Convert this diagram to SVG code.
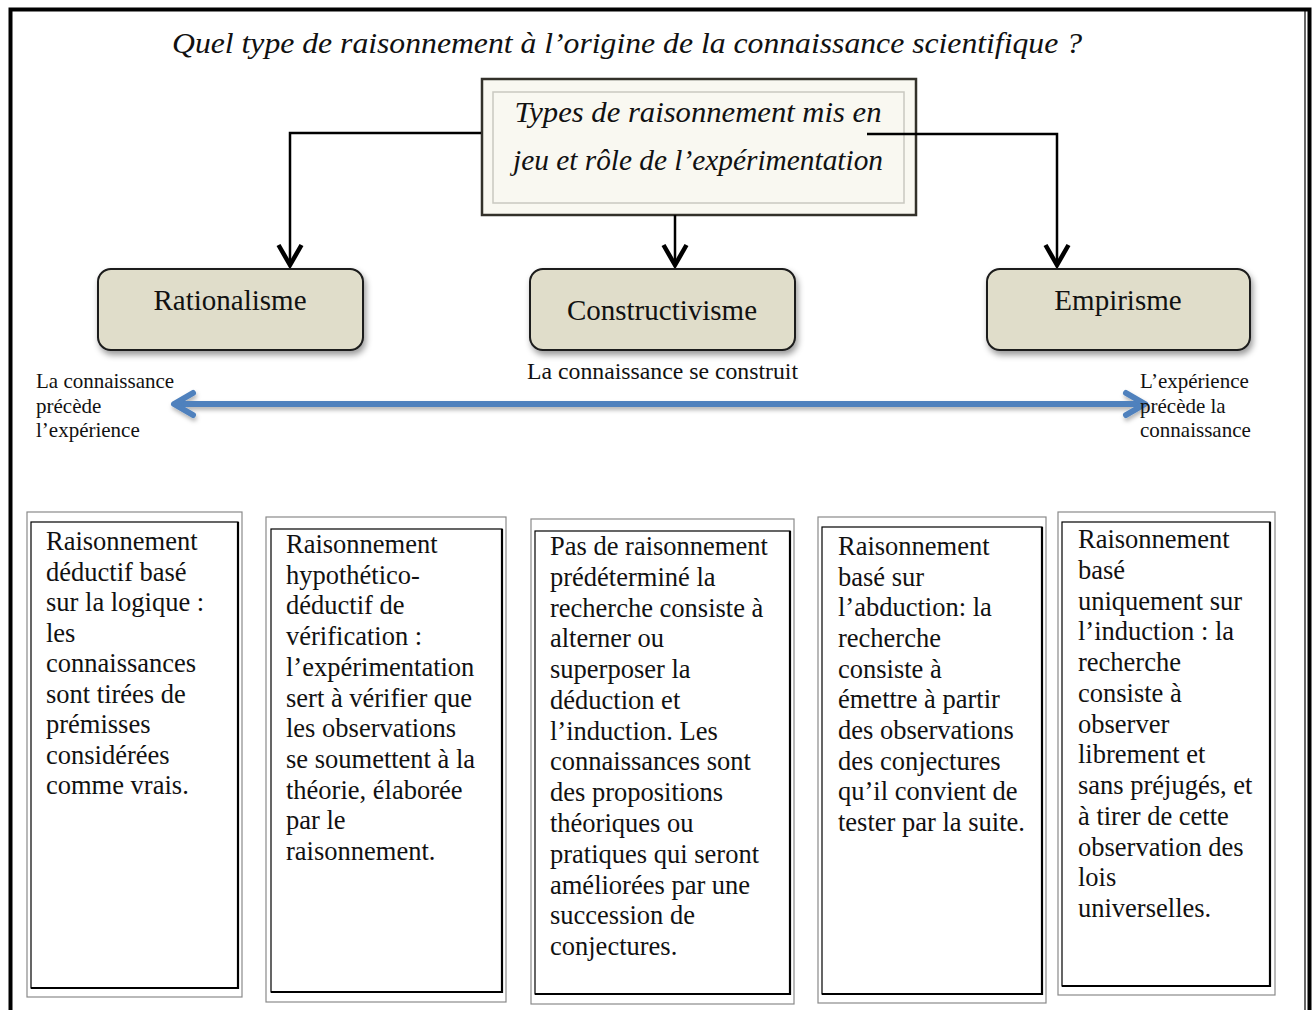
<svg xmlns="http://www.w3.org/2000/svg" width="1313" height="1010" viewBox="0 0 1313 1010">
<style>
text{font-family:"Liberation Serif","Times New Roman",serif;fill:#111}
.cal{font-style:italic;font-size:30px}
.node{fill:#e0ddca;stroke:#1a1a1a;stroke-width:2}
.nlab{font-size:29px;text-anchor:middle}
.side{font-size:21px}
.conn{fill:none;stroke:#000;stroke-width:2.5}
.outer{fill:none;stroke:#8a8a8a;stroke-width:1.2}
.inner{fill:#fff;stroke:#000;stroke-width:1.2}
.ish{fill:none;stroke:#000;stroke-width:2.2}
.bt{font-size:26.5px}
</style>
<defs>
<filter id="sh" x="-10%" y="-10%" width="130%" height="140%">
<feDropShadow dx="2" dy="4" stdDeviation="3" flood-color="#000" flood-opacity="0.4"/>
</filter>
<filter id="bsh" filterUnits="userSpaceOnUse" x="150" y="380" width="1020" height="50">
<feDropShadow dx="1" dy="3" stdDeviation="2" flood-color="#000" flood-opacity="0.3"/>
</filter>
<marker id="ah" markerUnits="userSpaceOnUse" viewBox="-26 -14 30 28" refX="-2" refY="0" markerWidth="30" markerHeight="28" orient="auto">
<path d="M-22,-11.5 L-2,0 L-22,11.5" fill="none" stroke="#000" stroke-width="4.5"/>
</marker>
<marker id="bh" markerUnits="userSpaceOnUse" viewBox="-26 -16 30 32" refX="-2" refY="0" markerWidth="30" markerHeight="32" orient="auto-start-reverse">
<path d="M-21,-11 L-2,0 L-21,11" fill="none" stroke="#4f81bd" stroke-width="6" stroke-linecap="round" stroke-linejoin="round"/>
</marker>
</defs>
<rect width="1313" height="1010" fill="#fff"/>
<g id="page-border">
<path d="M10.5,1010 V9.5 H1309.5 V1010" fill="none" stroke="#000" stroke-width="4"/>
<line x1="1305" y1="9" x2="1305" y2="1010" stroke="#000" stroke-width="1.2"/>
</g>
<g id="title">
<text class="cal" x="627" y="53" text-anchor="middle" font-size="31" textLength="910" lengthAdjust="spacingAndGlyphs">Quel type de raisonnement à l’origine de la connaissance scientifique ?</text>
</g>
<g id="root">
<rect x="482" y="79" width="434" height="136" fill="#f9f8f1" stroke="#33312a" stroke-width="2.5"/>
<rect x="493" y="92" width="411" height="111" fill="#f9f8f1" stroke="#c9c8c0" stroke-width="1.5"/>
<text class="cal" x="698" y="122" text-anchor="middle" textLength="367" lengthAdjust="spacingAndGlyphs">Types de raisonnement mis en</text>
<text class="cal" x="698" y="170" text-anchor="middle" textLength="370" lengthAdjust="spacingAndGlyphs">jeu et rôle de l’expérimentation</text>
</g>
<g id="connectors">
<path class="conn" d="M481,133 H290 V265" marker-end="url(#ah)"/>
<path class="conn" d="M675,215 V265" marker-end="url(#ah)"/>
<path class="conn" d="M867,134 H1057 V265" marker-end="url(#ah)"/>
<g filter="url(#bsh)">
<path d="M174,404 H1145" fill="none" stroke="#4f81bd" stroke-width="6" marker-start="url(#bh)" marker-end="url(#bh)"/>
</g>
</g>
<g id="rationalisme">
<rect class="node" x="98" y="269" width="265" height="81" rx="13" filter="url(#sh)"/>
<text class="nlab" x="230" y="310">Rationalisme</text>
</g>
<g id="constructivisme">
<rect class="node" x="530" y="269" width="265" height="81" rx="13" filter="url(#sh)"/>
<text class="nlab" x="662" y="320">Constructivisme</text>
</g>
<g id="empirisme">
<rect class="node" x="987" y="269" width="263" height="81" rx="13" filter="url(#sh)"/>
<text class="nlab" x="1118" y="310">Empirisme</text>
</g>
<g id="label-construit">
<text x="527" y="379" font-size="23.5" textLength="271" lengthAdjust="spacingAndGlyphs">La connaissance se construit</text>
</g>
<g id="label-left">
<text class="side" x="36" y="388">La connaissance</text>
<text class="side" x="36" y="413">précède</text>
<text class="side" x="36" y="437">l’expérience</text>
</g>
<g id="label-right">
<text class="side" x="1140" y="388">L’expérience</text>
<text class="side" x="1140" y="413">précède la</text>
<text class="side" x="1140" y="437">connaissance</text>
</g>
<g id="box1">
<rect class="outer" x="27" y="512" width="215" height="485"/>
<rect class="inner" x="31" y="522" width="207" height="466"/>
<path class="ish" d="M31,988 H238 V522"/>
<text class="bt" x="46" y="550">Raisonnement</text>
<text class="bt" x="46" y="580.5">déductif basé</text>
<text class="bt" x="46" y="611">sur la logique :</text>
<text class="bt" x="46" y="641.5">les</text>
<text class="bt" x="46" y="672">connaissances</text>
<text class="bt" x="46" y="702.5">sont tirées de</text>
<text class="bt" x="46" y="733">prémisses</text>
<text class="bt" x="46" y="763.5">considérées</text>
<text class="bt" x="46" y="794">comme vrais.</text>
</g>
<g id="box2">
<rect class="outer" x="266" y="517" width="240" height="485"/>
<rect class="inner" x="271" y="529" width="231" height="463"/>
<path class="ish" d="M271,992 H502 V529"/>
<text class="bt" x="286" y="553">Raisonnement</text>
<text class="bt" x="286" y="583.7">hypothético-</text>
<text class="bt" x="286" y="614.4">déductif de</text>
<text class="bt" x="286" y="645.1">vérification :</text>
<text class="bt" x="286" y="675.8">l’expérimentation</text>
<text class="bt" x="286" y="706.5">sert à vérifier que</text>
<text class="bt" x="286" y="737.2">les observations</text>
<text class="bt" x="286" y="767.9">se soumettent à la</text>
<text class="bt" x="286" y="798.6">théorie, élaborée</text>
<text class="bt" x="286" y="829.3">par le</text>
<text class="bt" x="286" y="860">raisonnement.</text>
</g>
<g id="box3">
<rect class="outer" x="531" y="519" width="263" height="485"/>
<rect class="inner" x="535" y="531" width="255" height="463"/>
<path class="ish" d="M535,994 H790 V531"/>
<text class="bt" x="550" y="555">Pas de raisonnement</text>
<text class="bt" x="550" y="585.8">prédéterminé la</text>
<text class="bt" x="550" y="616.5">recherche consiste à</text>
<text class="bt" x="550" y="647.3">alterner ou</text>
<text class="bt" x="550" y="678.1">superposer la</text>
<text class="bt" x="550" y="708.8">déduction et</text>
<text class="bt" x="550" y="739.6">l’induction. Les</text>
<text class="bt" x="550" y="770.4">connaissances sont</text>
<text class="bt" x="550" y="801.2">des propositions</text>
<text class="bt" x="550" y="831.9">théoriques ou</text>
<text class="bt" x="550" y="862.7">pratiques qui seront</text>
<text class="bt" x="550" y="893.5">améliorées par une</text>
<text class="bt" x="550" y="924.2">succession de</text>
<text class="bt" x="550" y="955">conjectures.</text>
</g>
<g id="box4">
<rect class="outer" x="818" y="517" width="228" height="486"/>
<rect class="inner" x="822" y="527" width="220" height="467"/>
<path class="ish" d="M822,994 H1042 V527"/>
<text class="bt" x="838" y="555">Raisonnement</text>
<text class="bt" x="838" y="585.7">basé sur</text>
<text class="bt" x="838" y="616.3">l’abduction: la</text>
<text class="bt" x="838" y="647">recherche</text>
<text class="bt" x="838" y="677.7">consiste à</text>
<text class="bt" x="838" y="708.3">émettre à partir</text>
<text class="bt" x="838" y="739">des observations</text>
<text class="bt" x="838" y="769.7">des conjectures</text>
<text class="bt" x="838" y="800.3">qu’il convient de</text>
<text class="bt" x="838" y="831">tester par la suite.</text>
</g>
<g id="box5">
<rect class="outer" x="1058" y="512" width="217" height="483"/>
<rect class="inner" x="1062" y="522" width="208" height="464"/>
<path class="ish" d="M1062,986 H1270 V522"/>
<text class="bt" x="1078" y="548">Raisonnement</text>
<text class="bt" x="1078" y="578.8">basé</text>
<text class="bt" x="1078" y="609.5">uniquement sur</text>
<text class="bt" x="1078" y="640.3">l’induction : la</text>
<text class="bt" x="1078" y="671">recherche</text>
<text class="bt" x="1078" y="701.8">consiste à</text>
<text class="bt" x="1078" y="732.5">observer</text>
<text class="bt" x="1078" y="763.3">librement et</text>
<text class="bt" x="1078" y="794">sans préjugés, et</text>
<text class="bt" x="1078" y="824.8">à tirer de cette</text>
<text class="bt" x="1078" y="855.5">observation des</text>
<text class="bt" x="1078" y="886.3">lois</text>
<text class="bt" x="1078" y="917">universelles.</text>
</g>
</svg>
